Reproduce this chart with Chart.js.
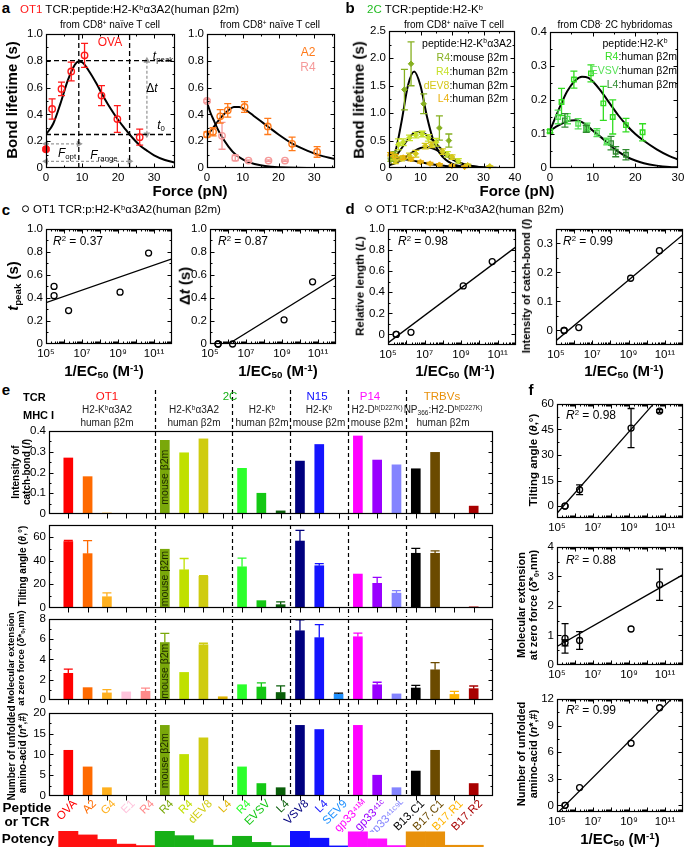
<!DOCTYPE html>
<html>
<head>
<meta charset="utf-8">
<title>TCR–pMHC catch bonds and antigen potency</title>
<script src="https://cdn.jsdelivr.net/npm/chart.js@4.4.1/dist/chart.umd.min.js"></script>
<style>
  html, body { margin: 0; padding: 0; background: #fff; }
  body { position: relative; width: 685px; height: 849px; overflow: hidden;
         font-family: "Liberation Sans", Arial, sans-serif; color: #000; }
  canvas { position: absolute; }
  .t { position: absolute; white-space: nowrap; line-height: 1; transform: translate(-50%, -50%); z-index: 2; }
  .l { transform: translate(0, -50%); }
  .rt { transform: translate(-100%, -50%); }
  .v { transform: translate(-50%, -50%) rotate(-90deg); text-align: center; line-height: 1.1; }
  .b { font-weight: bold; }
  sup { font-size: 65%; vertical-align: 0.5em; line-height: 0; }
  sub { font-size: 65%; vertical-align: -0.3em; line-height: 0; }
  .circ { display: inline-block; width: 5px; height: 5px; border: 1.3px solid #000; border-radius: 50%;
          margin-right: 4px; vertical-align: 1px; }
</style>
</head>
<body>
<script>
// ---------- panel a : OT1 bond lifetime vs force ----------
const aXTicks = [0, 10, 20, 30];
const aYTicks = [0, 0.2, 0.4, 0.6, 0.8, 1.0];
const ovaForce = [0, 1.7, 4.3, 7.0, 10.7, 15.4, 19.8, 26.0];
const ovaLife  = [0.14, 0.44, 0.59, 0.72, 0.84, 0.54, 0.365, 0.23];
const ovaErr   = [0.01, 0.075, 0.05, 0.07, 0.09, 0.075, 0.1, 0.06];
const ovaFitF  = [0, 2, 4, 6, 8, 9, 10, 12, 14, 16, 18, 20, 22, 23.2, 26, 28, 30, 33, 35.8];
const ovaFit   = [0.25, 0.33, 0.48, 0.65, 0.77, 0.795, 0.79, 0.72, 0.63, 0.53, 0.44, 0.36, 0.29, 0.25, 0.17, 0.13, 0.095, 0.06, 0.04];
const aTpeak = 0.8, aT0 = 0.25, aFopt = 9.1, aFrange = 23.2, aDeltaF = 28, aOptY = 0.18, aRangeY = 0.05;

const a2Force = [0, 1.7, 3.7, 5.8, 10.5, 17.0, 23.8, 30.8];
const a2Life  = [0.25, 0.27, 0.385, 0.43, 0.455, 0.31, 0.18, 0.12];
const a2Err   = [0.02, 0.03, 0.05, 0.05, 0.04, 0.06, 0.05, 0.04];
const a2FitF  = [0, 2, 4, 6, 7.5, 9, 11, 13, 15, 17, 20, 24, 28, 31, 35.8];
const a2Fit   = [0.24, 0.31, 0.38, 0.43, 0.455, 0.455, 0.43, 0.39, 0.35, 0.31, 0.25, 0.18, 0.13, 0.10, 0.066];
const r4Force = [0, 4.2, 7.9, 11.6, 17.2, 21.8];
const r4Life  = [0.5, 0.24, 0.075, 0.055, 0.055, 0.055];
const r4Err   = [0.01, 0.1, 0.02, 0.005, 0.005, 0.005];
const r4FitF  = [0, 1, 2, 3, 4, 6, 8, 10, 12, 15, 18, 22, 28, 35.8];
const r4Fit   = [0.49, 0.41, 0.35, 0.29, 0.24, 0.16, 0.10, 0.065, 0.04, 0.02, 0.01, 0.003, 0, 0];

// ---------- panel b : 2C bond lifetime vs force ----------
const bLXTicks = [0, 10, 20, 30, 40];
const bLYTicks = [0, 0.5, 1.0, 1.5, 2.0, 2.5];
const bR4mF = [0.6, 1.8, 4.9, 7.0, 11.0, 16.0, 19.0];
const bR4mY = [0.15, 0.25, 1.43, 1.9, 1.17, 0.73, 0.5];
const bR4mE = [0.03, 0.05, 0.37, 0.4, 0.18, 0.22, 0.12];
const bR4hF = [1.5, 3.0, 4.5, 6.5, 8.5, 10.5, 12.5, 15.0, 18.5, 22.0];
const bR4hY = [0.2, 0.43, 0.47, 0.55, 0.6, 0.62, 0.55, 0.47, 0.25, 0.13];
const bR4hE = [0.05, 0.1, 0.06, 0.05, 0.05, 0.05, 0.06, 0.07, 0.05, 0.04];
const bDevF = [2, 4, 6.5, 8.5, 11.5, 13.5, 17, 20, 25, 32];
const bDevY = [0.12, 0.17, 0.22, 0.26, 0.4, 0.42, 0.3, 0.2, 0.05, 0.03];
const bDevE = [0.04, 0.04, 0.05, 0.06, 0.05, 0.05, 0.05, 0.04, 0.02, 0.01];
const bL4F  = [0.5, 2, 4.5, 7, 10, 13, 16, 20, 24];
const bL4Y  = [0.25, 0.22, 0.19, 0.16, 0.11, 0.08, 0.06, 0.04, 0.02];
const bL4E  = [0.03, 0.03, 0.03, 0.03, 0.02, 0.02, 0.02, 0.02, 0.01];
const bFitF = [0, 2, 4, 6, 8, 10, 12, 14, 16, 18, 20, 22, 25, 30, 35, 40];
const bFitR4m = [0.15, 0.30, 0.85, 1.50, 1.76, 1.50, 0.95, 0.52, 0.28, 0.15, 0.08, 0.04, 0.015, 0.003, 0, 0];
const bFitR4h = [0.10, 0.20, 0.36, 0.52, 0.64, 0.655, 0.60, 0.50, 0.38, 0.27, 0.18, 0.11, 0.05, 0.01, 0, 0];
const bFitDev = [0.05, 0.09, 0.15, 0.23, 0.31, 0.365, 0.38, 0.355, 0.30, 0.23, 0.16, 0.10, 0.05, 0.01, 0.002, 0];
const bFitL4  = [0.21, 0.19, 0.17, 0.15, 0.13, 0.105, 0.085, 0.065, 0.05, 0.035, 0.025, 0.017, 0.008, 0.002, 0, 0];

const bRXTicks = [0, 10, 20, 30];
const bRYTicks = [0, 0.1, 0.2, 0.3, 0.4];
const hR4F = [0, 2.7, 5.6, 9.6, 12.5, 14.7, 17.8, 21.7];
const hR4Y = [0.108, 0.194, 0.26, 0.278, 0.19, 0.15, 0.126, 0.105];
const hR4E = [0.005, 0.04, 0.025, 0.025, 0.05, 0.05, 0.02, 0.025];
const hEvF = [1.9, 4.1, 6.6, 8.7, 11.0, 13.3];
const hEvY = [0.15, 0.145, 0.13, 0.12, 0.104, 0.078];
const hEvE = [0.02, 0.015, 0.015, 0.012, 0.012, 0.01];
const hL4F = [3.5, 8.5, 14.3, 15.4, 17.8];
const hL4Y = [0.14, 0.115, 0.073, 0.048, 0.039];
const hL4E = [0.02, 0.01, 0.02, 0.015, 0.015];
const hFitF = [0, 2, 4, 6, 7.5, 9, 10, 12, 14, 16, 18, 20, 22, 25, 28, 30];
const hFitUp = [0.11, 0.17, 0.225, 0.258, 0.268, 0.265, 0.255, 0.225, 0.19, 0.155, 0.125, 0.10, 0.08, 0.055, 0.035, 0.025];
const hFitLo = [0.11, 0.125, 0.137, 0.14, 0.135, 0.122, 0.11, 0.09, 0.068, 0.048, 0.033, 0.022, 0.014, 0.007, 0.003, 0.002];

// ---------- panels c, d, f : parameters vs 1/EC50 (E1, R4, G4, A2, OVA) ----------
const logTicks  = [1e5, 1e7, 1e9, 1e11];
const logLabels = ['10⁵', '10⁷', '10⁹', '10¹¹'];
const ec50 = [2.8e5, 2.8e5, 1.8e6, 1.3e9, 5e10];
const tPeak = [0.50, 0.42, 0.29, 0.45, 0.79];
const deltaT = [0, 0, 0, 0.21, 0.54];
const relLen = [0, 0, 0.02, 0.46, 0.69];
const catchI = [0, 0, 0.01, 0.18, 0.275];
const tiltF = [0, 0, 9.6, 45.8, 55.8];
const tiltFErr = [0, 0, 2.9, 11.5, 0.8];
const extF = [0.75, 0.9, 0.83, 1.22, 2.72];
const extFErr = [0.1, 0.5, 0.3, 0, 0.53];
const unfF = [0, 0, 2, 7, 11];
const fitTpeak = [[1e5, 0.36], [1e12, 0.74]];
const fitDeltaT = [[1.05e6, 0], [1e12, 0.58]];
const fitRelLen = [[1e5, -0.08], [1e12, 0.83]];
const fitCatchI = [[1e5, -0.035], [1e12, 0.33]];
const fitTilt = [[1e5, -4.2], [2.3e10, 60]];
const fitExt = [[1e5, 0.63], [1e12, 3.06]];
const fitUnf = [[1e5, -0.92], [2.3e11, 12]];
const unitTicks = [0, 0.2, 0.4, 0.6, 0.8, 1.0];
const catchITicks = [0, 0.1, 0.2, 0.3];
const tiltTicks = [0, 15, 30, 45, 60];
const extTicks = [0, 1, 2, 3, 4];
const unfTicks = [0, 3, 6, 9, 12];

// ---------- panel e : bars per peptide / TCR ----------
const eLabels = ['OVA', 'A2', 'G4', 'E1', 'R4', 'R4', 'R4', 'dEV8', 'L4', 'R4', 'EVSV', 'L4',
                 'VSV8', 'L4', 'SEV9', 'gp33⁴¹ᴹ', 'gp33⁴¹ᶜ', 'gp33⁴¹ᶜ⁹ᴸ', 'B13.C1', 'B17.C1', 'B17.R1', 'B17.R2'];
const eColors = ['#ff0000', '#ff6a00', '#ffb01e', '#ffc4dc', '#ff8a8a', '#7aa80a', '#c0e000', '#cfcc10', '#dfb400',
                 '#2aff2a', '#14c814', '#0a5f0a', '#00007f', '#1414ff', '#1e90ff', '#ff00ff', '#9900ff', '#8484ff',
                 '#000000', '#6b4a00', '#ffb400', '#a80000'];
const eErrColors = eColors.map(c => (c === '#1e90ff' ? '#000000' : c));
const eGroupSizes = [5, 4, 3, 3, 3, 4];
const eIntensity = [0.27, 0.18, 0.005, 0, 0, 0.355, 0.295, 0.362, 0, 0.22, 0.10, 0.015, 0.255, 0.335, 0, 0.376, 0.26, 0.237, 0.218, 0.297, 0, 0.038];
const eTilt    = [56, 45.8, 9.5, 0, 0, 49.5, 32.2, 26.7, 0, 34.7, 6.2, 2.8, 56.4, 35.6, 0, 28.6, 20.8, 12.5, 46.1, 46.1, 0, 1.0];
const eTiltErr = [1, 11, 3.2, 0, 0, 0, 9.5, 0.5, 0, 7.3, 0, 2.3, 9, 1.8, 0, 0, 5, 2.2, 4.2, 2, 0, 0];
const eExt    = [2.63, 1.22, 0.7, 0.8, 0.86, 5.67, 2.72, 5.45, 0.32, 1.51, 1.28, 0.74, 6.83, 6.15, 0.58, 6.24, 1.5, 0.6, 1.18, 2.98, 0.55, 1.12];
const eExtErr = [0.42, 0, 0.33, 0, 0.32, 0.9, 0, 0.15, 0, 0, 0.4, 0.65, 1.07, 1.28, 0.1, 0.35, 0.25, 0, 0.26, 0.7, 0.3, 0.26];
const eUnfold = [11, 7, 2, 0, 0, 17, 10, 14, 0, 7, 3, 2, 17, 16, 0, 17, 5, 2, 6, 11, 0, 3];
const ePotency = [1, 0.755, 0.47, 0.18, 0.09, 1, 0.71, 0.45, 0.11, 0.67, 0.29, 0.09, 1, 0.55, 0.07, 0.95, 0.51, 0.09, 0.95, 0.95, 0.11, 0.11];
const eGroupColors = ['#ff1010', '#16b016', '#16b016', '#1010ff', '#ff10ff', '#e8900a'];
const eIntTicks = [0, 0.1, 0.2, 0.3, 0.4];
const eTiltTicks = [0, 20, 40, 60];
const eExtTicks = [0, 2, 4, 6, 8];
const eUnfTicks = [0, 5, 10, 15, 20];

// ---------- chart defaults & plugins ----------
Chart.defaults.font.family = '"Liberation Sans", Arial, sans-serif';
Chart.defaults.font.size = 11.5;
Chart.defaults.color = '#000';
Chart.defaults.animation = false;
Chart.defaults.responsive = false;
Chart.defaults.plugins.legend.display = false;
Chart.defaults.plugins.tooltip.enabled = false;

function tickValues(sc, minorStep) {
  const out = [];
  if (sc.type === 'logarithmic') {
    const lo = Math.floor(Math.log10(sc.min)), hi = Math.ceil(Math.log10(sc.max));
    for (let e = lo; e <= hi; e++) for (let k = 1; k <= 9; k++) out.push([k * Math.pow(10, e), k === 1 ? 4 : 2]);
    return out;
  }
  if (sc.type === 'category') {
    sc.getLabels().forEach((lab, i) => { if (lab !== '') out.push([i, 5]); });
    return out;
  }
  sc.ticks.forEach(t => out.push([t.value, 4]));
  if (minorStep) {
    for (let v = Math.ceil(sc.min / minorStep - 1e-9) * minorStep; v <= sc.max + 1e-9; v += minorStep) out.push([v, 2]);
  }
  return out;
}

const frameTicks = {
  id: 'frameTicks',
  afterDraw(chart, args, o) {
    if (!o.on) return;
    const { ctx, chartArea: a } = chart, xs = chart.scales.x, ys = chart.scales.y;
    const L = Math.round(a.left) + 0.5, R = Math.round(a.right) - 0.5, T = Math.round(a.top) + 0.5, B = Math.round(a.bottom) - 0.5;
    ctx.save();
    ctx.strokeStyle = '#000';
    ctx.lineWidth = 1.2;
    ctx.strokeRect(L, T, R - L, B - T);
    ctx.lineWidth = 1;
    ctx.beginPath();
    tickValues(xs, o.xMinor).forEach(([v, len]) => {
      const p = Math.round(xs.getPixelForValue(v)) + 0.5;
      if (p < L - 0.1 || p > R + 0.1) return;
      if (o.xOut) { ctx.moveTo(p, B); ctx.lineTo(p, B + len); }
      else { ctx.moveTo(p, B); ctx.lineTo(p, B - len); ctx.moveTo(p, T); ctx.lineTo(p, T + len); }
    });
    tickValues(ys, o.yMinor).forEach(([v, len]) => {
      const p = Math.round(ys.getPixelForValue(v)) + 0.5;
      if (p < T - 0.1 || p > B + 0.1) return;
      ctx.moveTo(L, p); ctx.lineTo(L + len, p);
      ctx.moveTo(R, p); ctx.lineTo(R - len, p);
    });
    ctx.stroke();
    ctx.restore();
  }
};

const errorBars = {
  id: 'errorBars',
  afterDatasetsDraw(chart) {
    const { ctx } = chart;
    chart.data.datasets.forEach((ds, i) => {
      if (!ds.errors) return;
      const meta = chart.getDatasetMeta(i), ys = chart.scales[meta.yAxisID];
      ctx.save();
      ctx.lineWidth = ds.errorWidth || 1.3;
      meta.data.forEach((el, j) => {
        const e = ds.errors[j], raw = ds.data[j];
        const v = raw !== null && typeof raw === 'object' ? raw.y : raw;
        if (!e || v == null) return;
        const c = ds.errorColor;
        ctx.strokeStyle = Array.isArray(c) ? c[j] : c;
        const x = el.x, w = ds.capWidth || 3.5;
        const top = ys.getPixelForValue(v + e), bot = ds.errorUp ? el.y : ys.getPixelForValue(v - e);
        ctx.beginPath();
        ctx.moveTo(x, top); ctx.lineTo(x, bot);
        ctx.moveTo(x - w, top); ctx.lineTo(x + w, top);
        if (!ds.errorUp) { ctx.moveTo(x - w, bot); ctx.lineTo(x + w, bot); }
        ctx.stroke();
      });
      ctx.restore();
    });
  }
};

// dashed separators between TCR groups in panel e
const groupLines = {
  id: 'groupLines',
  afterDraw(chart, args, o) {
    if (!o.at) return;
    const { ctx, chartArea: a } = chart, xs = chart.scales.x;
    ctx.save();
    ctx.setLineDash([4, 3]);
    ctx.strokeStyle = '#000';
    ctx.lineWidth = 1.2;
    ctx.beginPath();
    o.at.forEach(v => {
      const p = Math.round(xs.getPixelForValue(v)) + 0.5;
      ctx.moveTo(p, a.top - (o.up || 0));
      ctx.lineTo(p, a.bottom + (o.down || 0));
    });
    ctx.stroke();
    ctx.restore();
  }
};

// vertical "mouse β2m" note inside one bar
const barNote = {
  id: 'barNote',
  afterDatasetsDraw(chart, args, o) {
    if (o.index == null) return;
    const el = chart.getDatasetMeta(0).data[o.index], { ctx, chartArea: a } = chart;
    ctx.save();
    ctx.translate(el.x, (el.y + a.bottom) / 2);
    ctx.rotate(-Math.PI / 2);
    ctx.font = '10.5px "Liberation Sans", Arial, sans-serif';
    ctx.fillStyle = '#1e2a00';
    ctx.textAlign = 'center';
    ctx.textBaseline = 'middle';
    ctx.fillText(o.text, 0, 0);
    ctx.restore();
  }
};

Chart.register(frameTicks, errorBars, groupLines, barNote);

// ---------- helpers ----------
function makeChart(bx, config) {
  const pt = bx.pt ?? 8, pr = bx.pr ?? 12, yw = bx.yw ?? 30, xh = bx.xh ?? 18;
  const cv = document.createElement('canvas');
  const W = Math.round(yw + (bx.r - bx.l) + pr), H = Math.round(pt + (bx.b - bx.t) + xh);
  cv.width = W; cv.height = H;
  Object.assign(cv.style, { left: (bx.l - yw) + 'px', top: (bx.t - pt) + 'px', width: W + 'px', height: H + 'px' });
  document.body.appendChild(cv);
  const o = config.options;
  o.layout = { padding: { top: pt, right: pr, left: 0, bottom: 0 } };
  o.scales.x.afterFit = s => { s.height = xh; };
  o.scales.y.afterFit = s => { s.width = yw; };
  return new Chart(cv, config);
}

const num = v => String(v);
const dec1 = v => (v === 0 ? '0' : v.toFixed(1));
const logFmt = (v, i) => logLabels[i];

function axis(min, max, ticks, fmt, extra) {
  return Object.assign({
    min, max,
    grid: { display: false, drawTicks: false },
    border: { display: false },
    afterBuildTicks: s => { s.ticks = ticks.map(v => ({ value: v })); },
    ticks: { padding: 3, autoSkip: false, maxRotation: 0, callback: fmt }
  }, extra);
}
const logAxis = () => axis(1e5, 1e12, logTicks, logFmt, { type: 'logarithmic' });

const xy = (xs, ys) => xs.map((x, i) => ({ x, y: ys[i] }));
const pairs = p => p.map(([x, y]) => ({ x, y }));
const curve = (xs, ys) => ({ data: xy(xs, ys), showLine: true, borderColor: '#000', borderWidth: 2,
                            pointRadius: 0, cubicInterpolationMode: 'monotone' });
const fitLine = p => ({ data: pairs(p), showLine: true, borderColor: '#000', borderWidth: 1.3, pointRadius: 0 });
const dots = (xs, ys, errs, color, extra) => Object.assign({
  data: xy(xs, ys), showLine: false, pointStyle: 'circle', pointRadius: 3.2, borderWidth: 1.4,
  borderColor: color, backgroundColor: 'rgba(0,0,0,0)', errors: errs, errorColor: color, clip: false
}, extra);
const guide = (p, color, dash) => ({ data: pairs(p), showLine: true, borderColor: color || '#000', borderWidth: 1.3,
                                     borderDash: dash || [5, 3], pointRadius: 0 });
const arrow = (p, rot) => ({ data: pairs(p), showLine: true, borderColor: '#9a9a9a', borderWidth: 1.3, borderDash: [3, 2],
                             pointStyle: 'triangle', pointRadius: 2.6, pointRotation: rot,
                             pointBackgroundColor: '#9a9a9a', pointBorderColor: '#9a9a9a', clip: false });

function xyChart(bx, datasets, x, y, ft) {
  return makeChart(bx, { type: 'scatter', data: { datasets },
    options: { plugins: { frameTicks: Object.assign({ on: true }, ft) }, scales: { x, y } } });
}

// ---------- panel a ----------
xyChart({ l: 46, t: 32, r: 175, b: 168, yw: 30 }, [
  dots(ovaForce, ovaLife, ovaErr, '#ff1a1a', { backgroundColor: ovaForce.map((f, i) => (i === 0 ? '#ff1a1a' : 'rgba(0,0,0,0)')) }),
  curve(ovaFitF, ovaFit),
  guide([[0, aTpeak], [35.8, aTpeak]]),
  guide([[0, aT0], [35.8, aT0]]),
  guide([[aFopt, 0], [aFopt, 1]]),
  guide([[aFrange, 0], [aFrange, 1]]),
  arrow([[aDeltaF, aTpeak], [aDeltaF, aT0]], [0, 180]),
  arrow([[0, aOptY], [aFopt, aOptY]], [270, 90]),
  arrow([[0, aRangeY], [aFrange, aRangeY]], [270, 90])
], axis(0, 35.8, aXTicks, num), axis(0, 1, aYTicks, dec1), { xMinor: 5, yMinor: 0.1 });

xyChart({ l: 207, t: 32, r: 335, b: 168, yw: 30 }, [
  dots(r4Force, r4Life, r4Err, '#f59a9a'),
  dots(a2Force, a2Life, a2Err, '#ff7a1a'),
  curve(a2FitF, a2Fit),
  curve(r4FitF, r4Fit)
], axis(0, 35.8, aXTicks, num), axis(0, 1, aYTicks, dec1), { xMinor: 5, yMinor: 0.1 });

// ---------- panel b ----------
const diamond = { pointStyle: 'rectRot', pointRadius: 2.8, borderWidth: 1 };
xyChart({ l: 389, t: 29, r: 515, b: 168, yw: 30 }, [
  dots(bR4mF, bR4mY, bR4mE, '#86b020', Object.assign({ backgroundColor: '#86b020' }, diamond)),
  dots(bR4hF, bR4hY, bR4hE, '#c6e02a', Object.assign({ backgroundColor: '#c6e02a' }, diamond)),
  dots(bDevF, bDevY, bDevE, '#d4c81a', Object.assign({ backgroundColor: '#d4c81a' }, diamond)),
  dots(bL4F, bL4Y, bL4E, '#e8b00c', Object.assign({ backgroundColor: '#e8b00c' }, diamond)),
  curve(bFitF, bFitR4m),
  curve(bFitF, bFitR4h),
  curve(bFitF, bFitDev),
  curve(bFitF, bFitL4)
], axis(0, 40, bLXTicks, num), axis(0, 2.5, bLYTicks, dec1), { xMinor: 5, yMinor: 0.25 });

const square = { pointStyle: 'rect', pointRadius: 3.2 };
xyChart({ l: 550, t: 30, r: 678, b: 168, yw: 30 }, [
  dots(hR4F, hR4Y, hR4E, '#33dd22', square),
  dots(hEvF, hEvY, hEvE, '#55e055', square),
  dots(hL4F, hL4Y, hL4E, '#2e8b2e', square),
  curve(hFitF, hFitUp),
  curve(hFitF, hFitLo)
], axis(0, 30, bRXTicks, num), axis(0, 0.4, bRYTicks, dec1), { xMinor: 5, yMinor: 0.05 });

// ---------- panels c and d ----------
const blk = (ys, errs) => dots(ec50, ys, errs || null, '#000', { pointRadius: 3, borderWidth: 1.3 });
xyChart({ l: 46, t: 227, r: 172, b: 344, yw: 30 }, [blk(tPeak), fitLine(fitTpeak)],
  logAxis(), axis(0, 1, unitTicks, dec1), { yMinor: 0.1 });
xyChart({ l: 210, t: 227, r: 336, b: 344, yw: 30 }, [blk(deltaT), fitLine(fitDeltaT)],
  logAxis(), axis(0, 1, unitTicks, dec1), { yMinor: 0.1 });
xyChart({ l: 388, t: 227, r: 516, b: 345, yw: 30 }, [blk(relLen), fitLine(fitRelLen)],
  logAxis(), axis(-0.1, 1, unitTicks, dec1), { yMinor: 0.1 });
xyChart({ l: 556, t: 227, r: 683, b: 345, yw: 30 }, [blk(catchI), fitLine(fitCatchI)],
  logAxis(), axis(-0.05, 0.35, catchITicks, dec1), { yMinor: 0.05 });

// ---------- panel f ----------
xyChart({ l: 557, t: 402, r: 683, b: 518, yw: 30 }, [blk(tiltF, tiltFErr), fitLine(fitTilt)],
  logAxis(), axis(-7, 60, tiltTicks, num), { yMinor: 7.5 });
xyChart({ l: 557, t: 545, r: 683, b: 665, yw: 30 }, [blk(extF, extFErr), fitLine(fitExt)],
  logAxis(), axis(0, 4, extTicks, num), { yMinor: 0.5 });
xyChart({ l: 557, t: 697, r: 683, b: 812, yw: 30 }, [blk(unfF), fitLine(fitUnf)],
  logAxis(), axis(-0.75, 12, unfTicks, num), { yMinor: 1.5 });

// ---------- panel e ----------
const pad = arr => [null, ...arr, null];
const eSlots = ['', ...eLabels, ''];
const eBreaks = eGroupSizes.slice(0, -1).map((n, i) => eGroupSizes.slice(0, i + 1).reduce((s, k) => s + k, 0) + 0.5);
const eSlotColors = ['#000', ...eColors, '#000'];
const ePotColors = ['#000'].concat(...eGroupSizes.map((n, g) => Array(n).fill(eGroupColors[g])), ['#000']);

function eRow(bx, values, errs, yTicks, fmt, yMinor, extra) {
  const last = !!extra.last;
  const x = {
    type: 'category', offset: false,
    grid: { display: false, drawTicks: false }, border: { display: false },
    ticks: { display: last, autoSkip: false, minRotation: 45, maxRotation: 45, padding: 1, labelOffset: 7,
             color: c => eSlotColors[c.index], font: { size: 11.5 } }
  };
  return makeChart(bx, {
    type: 'bar',
    data: { labels: eSlots, datasets: [{
      data: pad(values), backgroundColor: eSlotColors, barThickness: 9,
      errors: errs ? pad(errs) : null, errorUp: true, errorColor: ['#000', ...eErrColors, '#000'], capWidth: 4.5
    }] },
    options: {
      plugins: {
        frameTicks: { on: true, xOut: true, yMinor },
        groupLines: { at: eBreaks, up: extra.up || 0, down: extra.down || 0 },
        barNote: { index: 6, text: 'mouse β2m' }
      },
      scales: { x, y: axis(yTicks[0], extra.max, yTicks, fmt) }
    }
  });
}

eRow({ l: 49, t: 431, r: 493, b: 514, yw: 30, xh: 10, pt: 42 }, eIntensity, null, eIntTicks, dec1, 0.05, { max: 0.4, up: 41, down: 9 });
eRow({ l: 49, t: 523, r: 493, b: 608, yw: 30, xh: 10 }, eTilt, eTiltErr, eTiltTicks, num, 10, { max: 70, down: 9 });
eRow({ l: 49, t: 617, r: 493, b: 700, yw: 30, xh: 12 }, eExt, eExtErr, eExtTicks, num, 1, { max: 8, down: 11 });
eRow({ l: 49, t: 711, r: 493, b: 796, yw: 30, xh: 36 }, eUnfold, null, eUnfTicks, num, 2.5, { max: 20, last: true });

// potency staircase
makeChart({ l: 49, t: 831, r: 493, b: 847, yw: 0, xh: 0, pt: 0, pr: 0 }, {
  type: 'bar',
  data: { labels: eSlots, datasets: [{ data: pad(ePotency), backgroundColor: ePotColors, barPercentage: 1, categoryPercentage: 1 }] },
  options: {
    plugins: { frameTicks: { on: false } },
    scales: {
      x: { type: 'category', offset: false, display: false },
      y: { min: 0, max: 1, display: false }
    }
  }
});

// ---------- text ----------
function T(x, y, html, cls, css) {
  const d = document.createElement('div');
  d.className = 't ' + (cls || '');
  d.innerHTML = html;
  d.style.left = x + 'px';
  d.style.top = y + 'px';
  Object.assign(d.style, css || {});
  document.body.appendChild(d);
}
const fs = n => ({ fontSize: n + 'px' });
const col = (c, n) => ({ color: c, fontSize: (n || 11) + 'px' });
const Kb = 'H2-K<sup>b</sup>';
const axTitle = '1/EC<sub>50</sub> (M<sup>-1</sup>)';

// panel letters
T(6, 7, 'a', 'b', fs(15)); T(350, 7, 'b', 'b', fs(15));
T(6, 209, 'c', 'b', fs(15)); T(350, 208, 'd', 'b', fs(15));
T(6, 389, 'e', 'b', fs(15)); T(531, 389, 'f', 'b', fs(15));

// panel a
T(20, 10, '<span style="color:#ff1a1a">OT1</span> TCR:peptide:' + Kb + 'α3A2(human β2m)', 'l', fs(11.5));
T(110, 25, 'from CD8<sup>+</sup> naïve T cell', '', fs(10));
T(270, 25, 'from CD8<sup>+</sup> naïve T cell', '', fs(10));
T(12, 100, 'Bond lifetime (s)', 'v b', fs(15));
T(190, 190, 'Force (pN)', 'b', fs(15));
T(110, 42, 'OVA', '', col('#ff1a1a', 12));
T(163, 56, '<i>t</i><sub>peak</sub>', '', fs(12));
T(152, 88, 'Δ<i>t</i>', '', fs(12));
T(161, 125, '<i>t</i><sub>0</sub>', '', fs(12));
T(67, 153, '<i>F</i><sub>opt</sub>', '', fs(12));
T(104, 155, '<i>F</i><sub>range</sub>', '', fs(12));
T(308, 52, 'A2', '', col('#ff7a1a', 12));
T(308, 67, 'R4', '', col('#f59a9a', 12));

// panel b
T(367, 10, '<span style="color:#22bb22">2C</span> TCR:peptide:' + Kb, 'l', fs(11.5));
T(454, 25, 'from CD8<sup>+</sup> naïve T cell', '', fs(10));
T(615, 25, 'from CD8<sup>-</sup> 2C hybridomas', '', fs(10));
T(359, 100, 'Bond lifetime (s)', 'v b', fs(15));
T(517, 190, 'Force (pN)', 'b', fs(15));
T(467, 43, 'peptide:' + Kb + 'α3A2', '', fs(10.5));
T(508, 57, '<span style="color:#86b020">R4</span>:mouse β2m', 'rt', fs(10.5));
T(508, 71, '<span style="color:#c6e02a">R4</span>:human β2m', 'rt', fs(10.5));
T(508, 85, '<span style="color:#d4c81a">dEV8</span>:human β2m', 'rt', fs(10.5));
T(508, 98, '<span style="color:#e8b00c">L4</span>:human β2m', 'rt', fs(10.5));
T(635, 43, 'peptide:' + Kb, '', fs(10.5));
T(677, 56, '<span style="color:#33dd22">R4</span>:human β2m', 'rt', fs(10.5));
T(677, 70, '<span style="color:#55e055">EVSV</span>:human β2m', 'rt', fs(10.5));
T(677, 84, '<span style="color:#2e8b2e">L4</span>:human β2m', 'rt', fs(10.5));

// panels c and d
T(22, 210, '<span class="circ"></span>OT1 TCR:p:' + Kb + 'α3A2(human β2m)', 'l', fs(11.5));
T(365, 210, '<span class="circ"></span>OT1 TCR:p:' + Kb + 'α3A2(human β2m)', 'l', fs(11.5));
T(53, 241, '<i>R</i><sup>2</sup> = 0.37', 'l', fs(12));
T(218, 241, '<i>R</i><sup>2</sup> = 0.87', 'l', fs(12));
T(398, 241, '<i>R</i><sup>2</sup> = 0.98', 'l', fs(12));
T(563, 241, '<i>R</i><sup>2</sup> = 0.99', 'l', fs(12));
T(13, 286, '<i>t</i><sub>peak</sub> (s)', 'v b', fs(15));
T(185, 286, 'Δ<i>t</i> (s)', 'v b', fs(15));
T(360, 286, 'Relative length (<i>L</i>)', 'v b', fs(11.5));
T(526, 286, 'Intensity of catch-bond (<i>I</i>)', 'v b', fs(11));
T(104, 370, axTitle, 'b', fs(15));
T(278, 370, axTitle, 'b', fs(15));
T(455, 370, axTitle, 'b', fs(15));
T(624, 370, axTitle, 'b', fs(15));

// panel e headers
T(23, 397, 'TCR', 'l b', fs(11));
T(23, 415, 'MHC I', 'l b', fs(11));
T(107, 397, 'OT1', '', col('#ff1010', 11.5));
T(230, 397, '2C', '', col('#16b016', 11.5));
T(317, 397, 'N15', '', col('#1010ff', 11.5));
T(370, 397, 'P14', '', col('#ff10ff', 11.5));
T(442, 397, 'TRBVs', '', col('#e8900a', 11.5));
const mhc = [[107, Kb + 'α3A2', 'human β2m'], [194, Kb + 'α3A2', 'human β2m'], [262, Kb, 'human β2m'],
             [319, Kb, 'mouse β2m'], [377, 'H2-D<sup>b(D227K)</sup>', 'mouse β2m'],
             [443, 'NP<sub>366</sub>:H2-D<sup>b(D227K)</sup>', 'human β2m']];
mhc.forEach(([x, a, b]) => { T(x, 410, a, '', col('#222', 10)); T(x, 423, b, '', col('#222', 10)); });
T(21, 472, 'Intensity of<br>catch-bond (<i>I</i>)', 'v b', fs(10));
T(22, 566, 'Tilting angle (<i>θ</i>,°)', 'v b', fs(10));
T(16, 658, 'Molecular extension<br>at zero force (<i>δ</i>*<sub>0</sub>,nm)', 'v b', fs(9.5));
T(17, 753, 'Number of unfolded<br>amino-acid (<i>n</i>*,#)', 'v b', fs(10));
T(27, 808, 'Peptide', 'b', fs(13.5));
T(27, 822, 'or TCR', 'b', fs(13.5));
T(28, 839, 'Potency', 'b', fs(13.5));

// panel f
T(566, 415, '<i>R</i><sup>2</sup> = 0.98', 'l', fs(12));
T(566, 560, '<i>R</i><sup>2</sup> = 0.88', 'l', fs(12));
T(566, 710, '<i>R</i><sup>2</sup> = 0.99', 'l', fs(12));
T(533, 460, 'Tilting angle (<i>θ</i>,°)', 'v b', fs(11.5));
T(527, 605, 'Molecular extension<br>at zero force (<i>δ</i>*<sub>0</sub>,nm)', 'v b', fs(11));
T(527, 754, 'Number of unfolded<br>amino-acid (<i>n</i>*,#)', 'v b', fs(11));
T(620, 838, axTitle, 'b', fs(15));
</script>
</body>
</html>
